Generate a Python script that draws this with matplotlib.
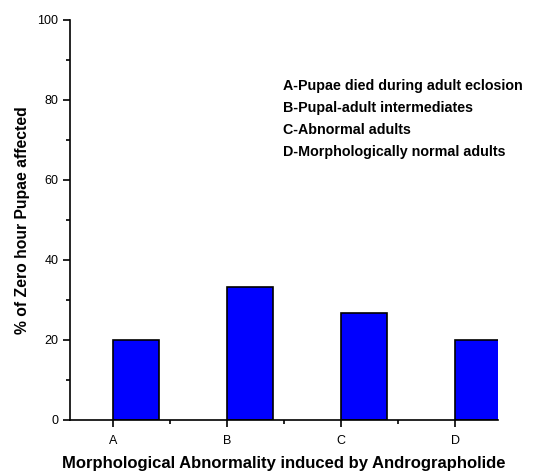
import matplotlib.pyplot as plt
from matplotlib.ticker import MultipleLocator

categories = ['A', 'B', 'C', 'D']
values = [20, 33.3, 26.7, 20]
legend_lines = ['A-Pupae died during adult eclosion',
                'B-Pupal-adult intermediates',
                'C-Abnormal adults',
                'D-Morphologically normal adults']

plt.rcParams['font.family'] = ['Liberation Sans', 'DejaVu Sans']

fig = plt.figure(figsize=(5.39, 4.74), dpi=100)
ax = fig.add_axes([0.130, 0.114, 0.794, 0.844])

x = range(len(categories))
ax.bar(x, values, width=0.4, align='edge', color='#0000ff',
       edgecolor='black', linewidth=1.2, clip_on=True)

ax.set_xlim(-0.375, 3.375)
ax.set_ylim(0, 100)
ax.set_xticks(list(x))
ax.set_xticklabels(categories)
ax.xaxis.set_minor_locator(MultipleLocator(0.5))
ax.yaxis.set_major_locator(MultipleLocator(20))
ax.yaxis.set_minor_locator(MultipleLocator(10))
ax.tick_params(which='major', direction='out', length=5, width=1.2, labelsize=9, colors='black')
ax.tick_params(axis='x', which='major', pad=6)
ax.tick_params(which='minor', direction='out', length=3, width=1.2)

for s in ['top', 'right']:
    ax.spines[s].set_visible(False)
for s in ['left', 'bottom']:
    ax.spines[s].set_linewidth(1.2)

ax.set_xlabel('Morphological Abnormality induced by Andrographolide',
              fontsize=12, fontweight='bold', labelpad=6)
ax.set_ylabel('% of Zero hour Pupae affected', fontsize=11.3,
              fontweight='bold', labelpad=5)

for i, t in enumerate(legend_lines):
    fig.text(283 / 539, 1 - (86 + 22 * i) / 474, t, fontsize=10.3,
             fontweight='bold', va='center', ha='left')

fig.savefig('out.png', dpi=100)
